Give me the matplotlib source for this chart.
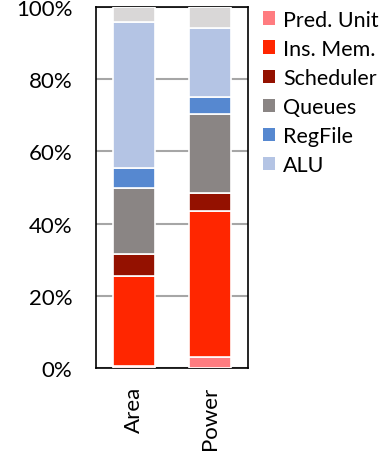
import matplotlib
matplotlib.use("Agg")
import matplotlib.pyplot as plt
from matplotlib.patches import Patch
import numpy as np

plt.rcParams['font.family'] = ['Lato', 'DejaVu Sans']

categories = ["Area", "Power"]
components = ["Pred. Unit", "Ins. Mem.", "Scheduler", "Queues", "RegFile", "ALU", "Other"]
# percentage share of each component, bottom to top
pred_unit = [0.5, 2.9]
ins_mem = [24.9, 40.6]
scheduler = [6.1, 4.9]
queues = [18.3, 22.1]
regfile = [5.5, 4.6]
alu = [40.7, 19.1]
other = [4.0, 5.8]
series = [pred_unit, ins_mem, scheduler, queues, regfile, alu, other]
colors = ["#FF7C80", "#FF2600", "#941100", "#8A8584", "#5688D0", "#B4C4E4", "#D9D7D7"]

fig = plt.figure(figsize=(3.90, 4.52), dpi=100)
ax = fig.add_axes([0.246, 0.184, 0.39, 0.798])

x = np.arange(len(categories))
bottom = np.zeros(len(categories))
for vals, col in zip(series, colors):
    ax.bar(x, vals, width=0.55, bottom=bottom, color=col, edgecolor="white",
           linewidth=1.2, zorder=3)
    bottom += np.array(vals)

ax.set_xlim(-0.5, 1.5)
ax.set_ylim(0, 100)
ax.set_yticks([0, 20, 40, 60, 80, 100])
ax.set_yticklabels(["0%", "20%", "40%", "60%", "80%", "100%"])
ax.yaxis.grid(True, color="#A6A6A6", linewidth=1.5, zorder=0)
ax.set_axisbelow(True)
ax.tick_params(axis="y", length=0, labelsize=16, pad=17)
ax.set_xticks(x)
ax.set_xticklabels(categories, rotation=90, fontsize=16)
ax.tick_params(axis="x", length=0, pad=13)
for s in ax.spines.values():
    s.set_color("black")
    s.set_linewidth(1.2)

handles = [Patch(facecolor=c, edgecolor="none") for c in colors[:6]]
fig.legend(handles, components[:6], loc="upper left", bbox_to_anchor=(0.652, 0.995),
           frameon=False, fontsize=15.5, handlelength=0.55, handleheight=0.6,
           handletextpad=0.4, labelspacing=0.42, borderaxespad=0)

fig.savefig("out.png", dpi=100)
